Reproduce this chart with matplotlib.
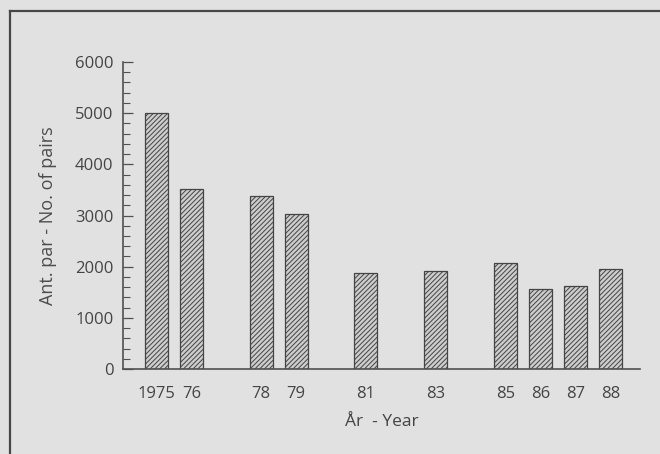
import matplotlib
matplotlib.use("Agg")
import matplotlib.pyplot as plt
from matplotlib.lines import Line2D
from matplotlib.ticker import MultipleLocator

years = [1975, 1976, 1978, 1979, 1981, 1983, 1985, 1986, 1987, 1988]
tick_labels = ["1975", "76", "78", "79", "81", "83", "85", "86", "87", "88"]
pairs = [5000, 3520, 3380, 3020, 1880, 1910, 2080, 1570, 1620, 1960]

bg = "#e1e1e1"
ink = "#505050"
txt = "#444444"

plt.rcParams["font.family"] = ["Open Sans", "DejaVu Sans"]
plt.rcParams["hatch.linewidth"] = 0.7
plt.rcParams["hatch.color"] = "#454545"

fig = plt.figure(figsize=(6.6, 4.54), dpi=100, facecolor=bg)
ax = fig.add_axes([0.1864, 0.1872, 0.7833, 0.6762], facecolor=bg)

ax.bar(years, pairs, width=0.66, color="#cdcdcd", edgecolor="#444444",
       linewidth=0.9, hatch="///////")

ax.set_xlim(1974.04, 1988.85)
ax.set_ylim(0, 6000)
ax.set_xticks(years)
ax.set_xticklabels(tick_labels)
ax.yaxis.set_major_locator(MultipleLocator(1000))
ax.yaxis.set_minor_locator(MultipleLocator(200))

for s in ["top", "right"]:
    ax.spines[s].set_visible(False)
for s in ["left", "bottom"]:
    ax.spines[s].set_color(ink)
    ax.spines[s].set_linewidth(1.2)

ax.tick_params(axis="y", which="major", direction="in", length=7, width=0.9,
               color=ink, labelcolor=txt, labelsize=12, pad=7)
ax.tick_params(axis="y", which="minor", direction="in", length=5, width=0.8,
               color=ink)
ax.tick_params(axis="x", length=0, labelcolor=txt, labelsize=12, pad=12)

ax.set_ylabel("Ant. par - No. of pairs", fontsize=13, color="#4c4c4c",
              labelpad=13)
ax.set_xlabel("År  - Year", fontsize=12.5, color=txt, labelpad=9)

# scanned page frame
fy = 1 - 11 / 454
fx = 9.5 / 660
fig.add_artist(Line2D([fx, fx], [0, fy], transform=fig.transFigure,
                      color="#474747", linewidth=1.6))
fig.add_artist(Line2D([fx, 1], [fy, fy], transform=fig.transFigure,
                      color="#474747", linewidth=1.6))

fig.savefig("out.png", dpi=100, facecolor=bg)
